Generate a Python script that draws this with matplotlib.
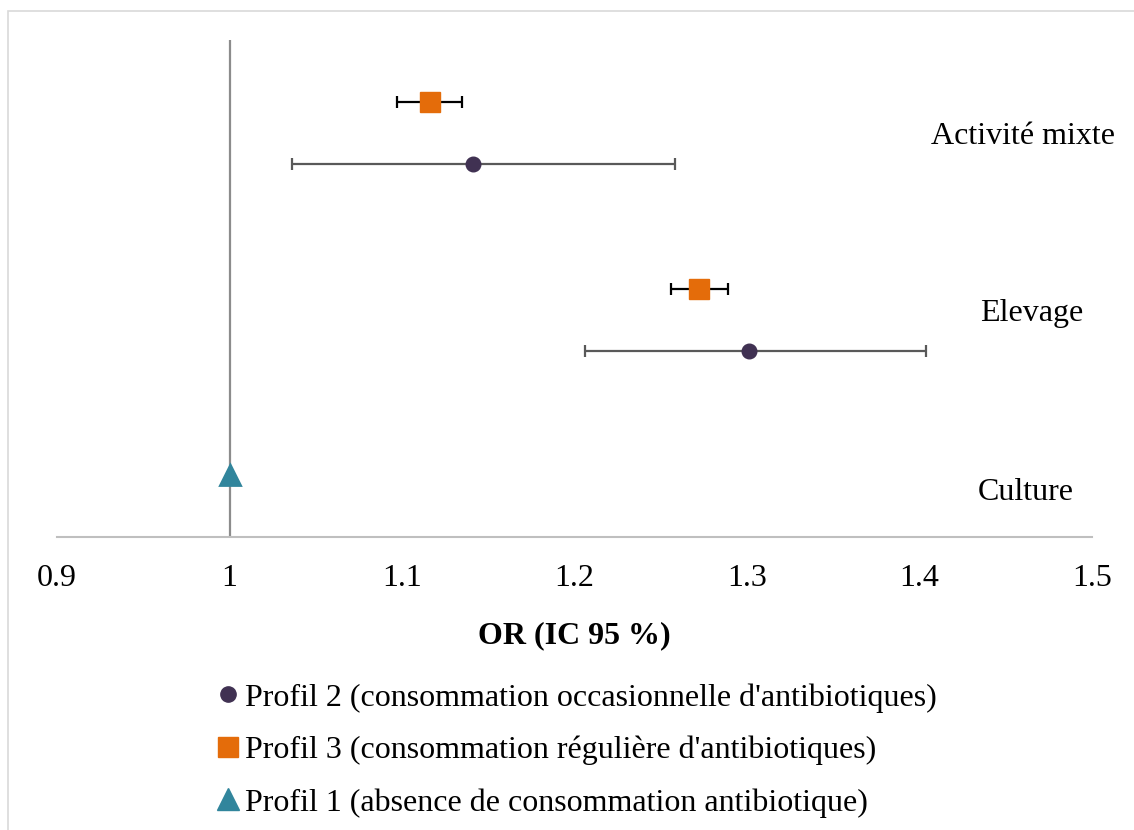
import matplotlib.pyplot as plt
from matplotlib.lines import Line2D
from matplotlib.patches import Rectangle

plt.rcParams['font.family'] = ['Liberation Serif', 'DejaVu Serif']

# Data: odds ratios with 95% CI, per activity group
groups = ['Elevage', 'Activité mixte']
p2_or = [1.301, 1.141]
p2_lo = [1.206, 1.036]
p2_hi = [1.404, 1.258]
p2_y = [3, 6]

p3_or = [1.272, 1.116]
p3_lo = [1.256, 1.097]
p3_hi = [1.289, 1.135]
p3_y = [4, 7]

p1_or = [1.0]
p1_y = [1]

label_names = ['Culture', 'Elevage', 'Activité mixte']

legend_labels = [
    "Profil 2 (consommation occasionnelle d'antibiotiques)",
    "Profil 3 (consommation régulière d'antibiotiques)",
    "Profil 1 (absence de consommation antibiotique)",
]
xticks = [0.9, 1.0, 1.1, 1.2, 1.3, 1.4, 1.5]
xtick_labels = ['0.9', '1', '1.1', '1.2', '1.3', '1.4', '1.5']

c_purple = '#403152'
c_orange = '#E46C0A'
c_teal = '#31859C'
FS = 23

fig = plt.figure(figsize=(11.34, 8.3), dpi=100)
ax = fig.add_axes([57 / 1134, 1 - 537 / 830, (1092 - 57) / 1134, (537 - 40) / 830])

# frame around the chart
fig.patches.append(Rectangle((8 / 1134, -0.2), 1.2, 0.2 + 1 - 11 / 830,
                             transform=fig.transFigure, fill=False,
                             edgecolor='#d9d9d9', lw=1.2))

ax.axvline(1.0, color='#8c8c8c', lw=1.6, zorder=1)

p2_err = [[o - l for o, l in zip(p2_or, p2_lo)], [h - o for o, h in zip(p2_or, p2_hi)]]
p3_err = [[o - l for o, l in zip(p3_or, p3_lo)], [h - o for o, h in zip(p3_or, p3_hi)]]

ax.errorbar(p2_or, p2_y, xerr=p2_err, fmt='o', color=c_purple, ms=10.5,
            ecolor='#595959', elinewidth=1.6, capsize=4, capthick=1.6, zorder=3)
ax.errorbar(p3_or, p3_y, xerr=p3_err, fmt='s', color=c_orange, ms=14,
            ecolor='black', elinewidth=1.6, capsize=4, capthick=1.6, zorder=3)
ax.plot(p1_or, p1_y, '^', color=c_teal, ms=15, mec=c_teal, mew=2, zorder=4)

# category labels on the right
label_x = [1.4616, 1.465, 1.46]
label_y = [0.71, 3.6, 6.44]
for name, lx, ly in zip(label_names, label_x, label_y):
    ax.text(lx, ly, name, ha='center', va='center', fontsize=FS)

ax.set_xlim(0.9, 1.5)
ax.set_ylim(0, 8)
ax.set_xticks(xticks)
ax.set_xticklabels(xtick_labels)
ax.set_yticks([])
ax.tick_params(axis='x', length=0, pad=19.5, labelsize=FS)
for s in ['top', 'right', 'left']:
    ax.spines[s].set_visible(False)
ax.spines['bottom'].set_color('#bfbfbf')
ax.spines['bottom'].set_linewidth(1.5)
ax.set_xlabel('OR (IC 95 %)', fontsize=FS, fontweight='bold', labelpad=20)

handles = [
    Line2D([], [], marker='o', ls='none', color=c_purple, ms=11),
    Line2D([], [], marker='s', ls='none', color=c_orange, ms=14),
    Line2D([], [], marker='^', ls='none', color=c_teal, ms=16),
]
fig.legend(handles, legend_labels, loc='upper left',
           bbox_to_anchor=(215 / 1134, 1 - 683 / 830), frameon=False,
           fontsize=FS, handlelength=0.8, handletextpad=0.15,
           labelspacing=0.72, borderpad=0, borderaxespad=0)

fig.savefig('out.png', dpi=100)
